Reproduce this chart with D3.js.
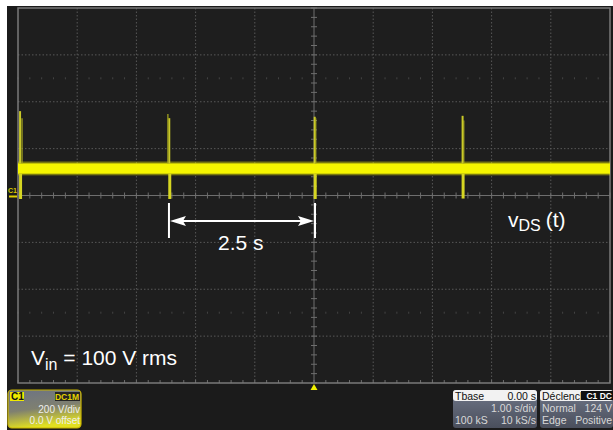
<!DOCTYPE html>
<html><head><meta charset="utf-8">
<script src="https://cdn.jsdelivr.net/npm/d3@7/dist/d3.min.js"></script>
<style>
html,body{margin:0;padding:0;background:#fff;}
svg{display:block;font-family:"Liberation Sans",Arial,Helvetica,sans-serif;}
</style></head>
<body>
<svg id="c" width="613" height="430"></svg>
<script>
// ---- data (time in s, voltage in V) ----
const timeDomain = [-5, 5];          // 1.00 s/div, 10 divisions, Tbase 0.00 s
const voltDomain = [-800, 800];      // 200 V/div, 8 divisions, 0.0 V offset
const bandLow = 93;                  // noisy DC level of v_DS, lower envelope
const bandHigh = 137;                // upper envelope
const bandFuzzLow = 86;
const bandFuzzHigh = 145;
const spikeTimes = [-4.965, -2.445, 0.012, 2.51];
const spikePeaks = [360, 330, 336, 340];
const spikeLows = [-15, -15, -15, -13];
const spike2Times = [-4.932, -2.468, 0.03, 2.53];
const spike2Peaks = [330, 348, 330, 320];
const markerStart = -2.45, markerEnd = 0.0;
const labels = {delta: "2.5 s"};
const c1Rows = ["200 V/div", "0.0 V offset"];
const tbaseRows = [["Tbase", "0.00 s"], ["", "1.00 s/div"], ["100 kS", "10 kS/s"]];
const trigRows = [["Déclench", ""], ["Normal", "124 V"], ["Edge", "Positive"]];

const svg = d3.select("#c");
const L = 18, R = 610, T = 8, B = 383;
const x = d3.scaleLinear().domain(timeDomain).range([L, R]);
const y = d3.scaleLinear().domain(voltDomain).range([B, T]);

// screen background
svg.append("rect").attr("x", 7).attr("y", 6).attr("width", 606).attr("height", 424).attr("fill", "#1b1b1b");
svg.append("rect").attr("x", L).attr("y", T).attr("width", R - L).attr("height", B - T).attr("fill", "#1e1e1e");

const divX = d3.range(-5, 5.001, 1);
const divY = d3.range(-800, 800.1, 200);
const g = svg.append("g");
// dashed grid
g.selectAll(".vx").data(divX.filter(d => d !== 0 && Math.abs(d) !== 5)).join("line")
  .attr("x1", d => x(d)).attr("x2", d => x(d)).attr("y1", T).attr("y2", B)
  .attr("stroke", "#585858").attr("stroke-dasharray", "1.5,2");
g.selectAll(".hy").data(divY.filter(d => d !== 0 && Math.abs(d) !== 800)).join("line")
  .attr("y1", d => y(d)).attr("y2", d => y(d)).attr("x1", L).attr("x2", R)
  .attr("stroke", "#585858").attr("stroke-dasharray", "1.5,2");
// faint tick rows at +-2.5 div
const minorX = d3.range(-5, 5.001, 0.2);
const minorY = d3.range(-800, 800.1, 40);
[500, -500].forEach(v => {
  g.selectAll(null).data(minorX).join("line")
    .attr("x1", d => x(d)).attr("x2", d => x(d)).attr("y1", y(v) - 1).attr("y2", y(v) + 1)
    .attr("stroke", "#444");
});
// center axes
g.append("line").attr("x1", L).attr("x2", R).attr("y1", y(0)).attr("y2", y(0)).attr("stroke", "#6e6e6e");
g.append("line").attr("x1", x(0)).attr("x2", x(0)).attr("y1", T).attr("y2", B).attr("stroke", "#6e6e6e");
g.selectAll(null).data(minorX).join("line")
  .attr("x1", d => x(d)).attr("x2", d => x(d)).attr("y1", y(0) - 3).attr("y2", y(0) + 3).attr("stroke", "#6e6e6e");
g.selectAll(null).data(minorY).join("line")
  .attr("y1", d => y(d)).attr("y2", d => y(d)).attr("x1", x(0) - 3).attr("x2", x(0) + 3).attr("stroke", "#6e6e6e");
// bottom edge ticks
g.selectAll(null).data(minorX).join("line")
  .attr("x1", d => x(d)).attr("x2", d => x(d)).attr("y1", B - 3).attr("y2", B).attr("stroke", "#6e6e6e");
// border
g.append("rect").attr("x", L).attr("y", T).attr("width", R - L).attr("height", B - T)
  .attr("fill", "none").attr("stroke", "#7a7a7a").attr("stroke-width", 1.5);

// trace
const tr = svg.append("g");
tr.append("rect").attr("x", x(timeDomain[0])).attr("width", x(timeDomain[1]) - x(timeDomain[0]))
  .attr("y", y(bandFuzzHigh)).attr("height", y(bandFuzzLow) - y(bandFuzzHigh)).attr("fill", "#e6e600").attr("opacity", 0.45);
tr.append("rect").attr("x", x(timeDomain[0])).attr("width", x(timeDomain[1]) - x(timeDomain[0]))
  .attr("y", y(bandHigh)).attr("height", y(bandLow) - y(bandHigh)).attr("fill", "#f5f500");
// spikes
spikeTimes.forEach((t, i) => {
  tr.append("line").attr("x1", x(t)).attr("x2", x(t)).attr("y1", y(spikePeaks[i])).attr("y2", y(bandHigh))
    .attr("stroke", "#c9c928").attr("stroke-width", 2);
  tr.append("line").attr("x1", x(spike2Times[i])).attr("x2", x(spike2Times[i])).attr("y1", y(spike2Peaks[i])).attr("y2", y(bandHigh))
    .attr("stroke", "#a9a920").attr("stroke-width", 1.2);
  tr.append("line").attr("x1", x(t) + 0.5).attr("x2", x(t) + 0.5).attr("y1", y(bandLow)).attr("y2", y(spikeLows[i]))
    .attr("stroke", "#d6d622").attr("stroke-width", 3);
});

// C1 ground marker
svg.append("text").attr("x", 8).attr("y", 193).attr("font-size", 7).attr("font-weight", "bold").attr("fill", "#d8c800").text("C1");
svg.append("line").attr("x1", 9).attr("x2", 17).attr("y1", y(0) + 1).attr("y2", y(0) + 1).attr("stroke", "#e0d000").attr("stroke-width", 2);
// trigger position marker
svg.append("path").attr("d", `M${x(0)},${B + 1} L${x(0) - 3.5},${B + 7} L${x(0) + 3.5},${B + 7} Z`).attr("fill", "#f0f000");

// measurement annotation
const ay = 221;
const ann = svg.append("g").attr("stroke", "#fff").attr("fill", "#fff");
ann.append("line").attr("x1", x(markerStart)).attr("x2", x(markerStart)).attr("y1", 203).attr("y2", 238).attr("stroke-width", 2);
ann.append("line").attr("x1", x(markerEnd) + 1).attr("x2", x(markerEnd) + 1).attr("y1", 203).attr("y2", 238).attr("stroke-width", 2);
ann.append("line").attr("x1", x(markerStart) + 6).attr("x2", x(markerEnd) - 6).attr("y1", ay).attr("y2", ay).attr("stroke-width", 2);
ann.append("path").attr("stroke", "none").attr("d", `M${x(markerStart) + 1},${ay} L${x(markerStart) + 17},${ay - 5} L${x(markerStart) + 14},${ay} L${x(markerStart) + 17},${ay + 5} Z`);
ann.append("path").attr("stroke", "none").attr("d", `M${x(markerEnd)},${ay} L${x(markerEnd) - 16},${ay - 5} L${x(markerEnd) - 13},${ay} L${x(markerEnd) - 16},${ay + 5} Z`);
svg.append("text").attr("x", 218).attr("y", 250).attr("font-size", 21).attr("fill", "#fff").text(labels.delta);

// vDS(t)
const vt = svg.append("text").attr("x", 508).attr("y", 227).attr("font-size", 21).attr("fill", "#fff");
vt.append("tspan").text("v");
vt.append("tspan").attr("font-size", 16).attr("dy", 4).text("DS");
vt.append("tspan").attr("dy", -4).attr("dx", 5).text("(t)");
// Vin
const vi = svg.append("text").attr("x", 31).attr("y", 365).attr("font-size", 21).attr("fill", "#fff");
vi.append("tspan").text("V");
vi.append("tspan").attr("font-size", 16).attr("dy", 5).text("in");
vi.append("tspan").attr("dy", -5).text(" = 100 V rms");

// panels
const defs = svg.append("defs");
const gr = defs.append("linearGradient").attr("id", "c1g").attr("x1", 0).attr("y1", 0).attr("x2", 0.25).attr("y2", 1);
gr.append("stop").attr("offset", "0").attr("stop-color", "#6c7384");
gr.append("stop").attr("offset", "0.55").attr("stop-color", "#7f8070");
gr.append("stop").attr("offset", "1").attr("stop-color", "#e2e020");
const gp = defs.append("linearGradient").attr("id", "pg").attr("x1", 0).attr("y1", 0).attr("x2", 0).attr("y2", 1);
gp.append("stop").attr("offset", "0").attr("stop-color", "#6f7688");
gp.append("stop").attr("offset", "1").attr("stop-color", "#4a4f5c");

const c1 = svg.append("g").attr("font-size", 10);
c1.append("rect").attr("x", 8).attr("y", 390).attr("width", 73).attr("height", 38).attr("rx", 4).attr("fill", "url(#c1g)").attr("stroke", "#c8b400").attr("stroke-width", 1.2);
c1.append("rect").attr("x", 10).attr("y", 392).attr("width", 14).attr("height", 9).attr("fill", "#f0ea00");
c1.append("text").attr("x", 11).attr("y", 400).attr("font-weight", "bold").attr("fill", "#111").text("C1");
c1.append("rect").attr("x", 55).attr("y", 392).attr("width", 25).attr("height", 9).attr("fill", "#252525");
c1.append("text").attr("x", 79).attr("y", 400).attr("text-anchor", "end").attr("font-weight", "bold").attr("font-size", 8.5).attr("fill", "#e6d200").text("DC1M");
c1.selectAll(".r").data(c1Rows).join("text").attr("x", 80).attr("y", (d, i) => 413 + i * 11)
  .attr("text-anchor", "end").attr("fill", "#eeeeee").text(d => d);

function panel(x0, w, rows, badge) {
  const p = svg.append("g").attr("font-size", 10.5);
  p.append("rect").attr("x", x0).attr("y", 390).attr("width", w).attr("height", 38).attr("rx", 3).attr("fill", "url(#pg)");
  p.append("rect").attr("x", x0).attr("y", 390).attr("width", w).attr("height", 11).attr("rx", 3).attr("fill", "#f2f2f2");
  if (badge) {
    p.append("rect").attr("x", x0 + w - 32).attr("y", 391).attr("width", 32).attr("height", 9).attr("fill", "#111");
    p.append("text").attr("x", x0 + w - 1).attr("y", 399).attr("text-anchor", "end").attr("font-size", 8.5).attr("font-weight", "bold").attr("fill", "#fff").text(badge);
  }
  rows.forEach((r, i) => {
    const yy = 399.5 + i * 12;
    const col = i === 0 ? "#111" : "#d8d8d8";
    p.append("text").attr("x", x0 + 2).attr("y", yy).attr("fill", col).text(r[0]);
    p.append("text").attr("x", x0 + w - 1).attr("y", yy).attr("text-anchor", "end").attr("fill", col).text(r[1]);
  });
}
panel(453, 84, tbaseRows, null);
panel(540, 73, trigRows, "C1 DC");
</script>
</body></html>
